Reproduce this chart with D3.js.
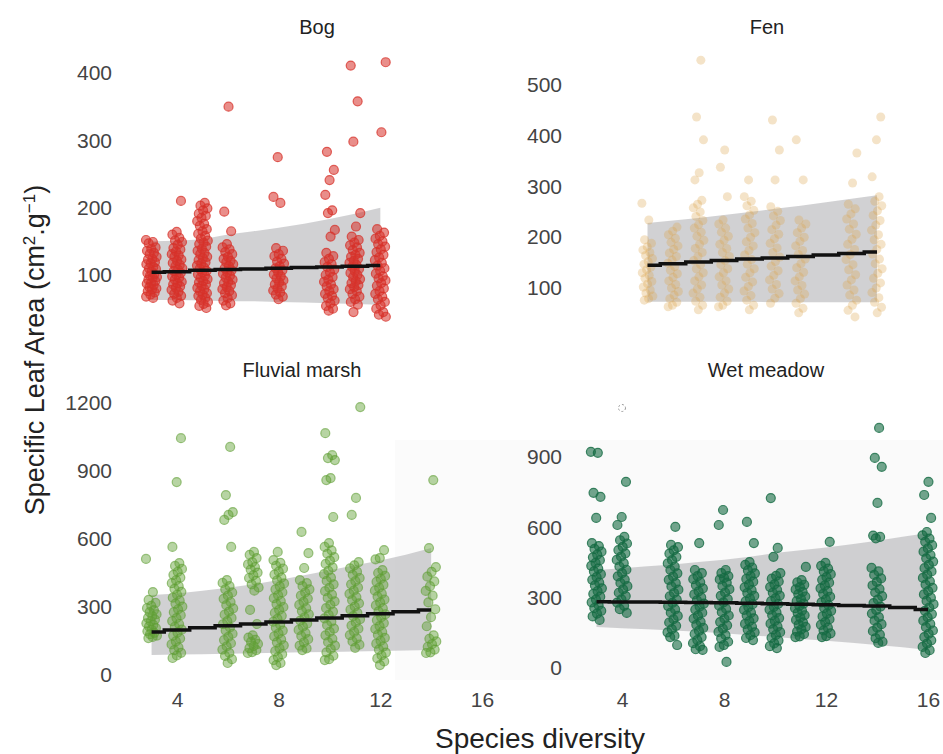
<!DOCTYPE html>
<html>
<head>
<meta charset="utf-8">
<script src="https://cdn.jsdelivr.net/npm/d3@7"></script>
<style>
  body { margin: 0; background: #fff; }
  text { font-family: "Liberation Sans", Arial, sans-serif; }
</style>
</head>
<body>
<script>
// SLA vs species diversity, one facet per habitat

const w = 943;
const h = 754;

const habitats = ["Bog", "Fen", "Fluvial marsh", "Wet meadow"];
const xTicks = [4, 8, 12, 16];
const bogTicks = [100, 200, 300, 400];
const fenTicks = [100, 200, 300, 400, 500];
const fluvialTicks = [0, 300, 600, 900, 1200];
const meadowTicks = [0, 300, 600, 900];

// ---- Bog
const bogX = [3, 4, 5, 6, 8, 10, 11, 12];
const bogSLA = [
  [152,149,147,141,139,136,133,131,127,124,123,119,117,116,112,110,109,105,103,101,99,97,96,93,91,88,87,85,82,80,79,76,74,71,68,66],
  [210,164,160,155,151,149,145,140,138,135,131,129,127,123,121,118,115,113,110,108,106,103,100,98,96,93,90,88,86,83,81,78,75,72,69,66,62,58],
  [207,203,199,196,191,188,185,180,176,173,168,165,161,158,154,151,148,146,142,139,136,133,131,127,125,122,119,117,114,111,109,106,104,101,99,96,94,91,89,86,84,81,79,76,73,71,69,66,63,60,57,54,51],
  [350,194,165,146,141,138,134,131,127,124,121,119,116,113,110,107,104,102,99,96,93,90,88,85,82,79,76,73,70,66,62,58,55],
  [275,216,207,140,136,131,128,124,120,117,113,110,107,104,101,98,95,92,89,86,83,80,77,74,71,68,64],
  [283,256,241,219,196,192,167,157,133,128,124,119,116,112,108,104,100,97,93,90,86,83,79,76,72,69,66,62,58,54,50,47],
  [411,358,298,192,172,157,152,148,144,141,137,133,130,127,124,121,118,115,112,109,106,103,100,97,94,91,88,85,82,79,76,72,68,64,60,56,45],
  [416,312,168,163,158,154,150,146,142,138,134,130,126,122,118,114,110,106,102,98,95,92,88,84,80,76,72,68,64,60,55,50,45,41,38]
];
const bogFitX = [3, 4, 5, 6, 7, 8, 9, 10, 11, 12];
const bogFit = [104, 105, 107, 108, 109, 110, 111, 112, 113, 114];
const bogUpper = [150, 151, 153, 160, 165, 170, 176, 183, 191, 200];
const bogLower = [63, 63, 62, 61, 61, 60, 59, 58, 57, 56];

// ---- Fen
const fenX = [5, 6, 7, 8, 9, 10, 11, 13, 14];
const fenSLA = [
  [267,234,195,188,181,175,170,164,158,152,147,141,136,130,125,119,113,108,102,96,90,84,79,76],
  [220,212,205,198,190,183,176,169,162,155,149,142,135,128,121,114,107,100,93,86,79,72,66,63],
  [549,437,392,327,313,273,265,258,250,241,233,225,218,210,202,194,186,178,170,162,154,146,138,130,122,114,106,98,90,82,74,66,57],
  [372,338,280,234,226,218,210,202,194,186,178,170,162,154,146,138,130,122,114,106,98,90,82,74,66,63],
  [313,280,271,262,253,244,236,227,218,209,200,191,183,174,165,156,147,138,130,121,112,103,94,85,76,66,57],
  [431,372,313,260,251,242,233,224,215,206,197,188,179,170,161,152,143,134,125,116,107,98,89,80,70],
  [392,313,234,226,218,209,200,192,183,174,166,157,148,140,131,122,114,105,96,88,79,70,60,51],
  [366,307,265,256,246,236,226,216,206,196,186,176,166,156,146,136,126,116,106,96,86,76,66,56,43],
  [437,392,319,280,271,262,252,243,233,224,214,205,195,186,176,167,157,148,138,129,119,110,100,91,81,72,62,51]
];
const fenFitX = [5, 6, 7, 8, 9, 10, 11, 12, 13, 14];
const fenFit = [145, 148, 151, 154, 157, 159, 162, 165, 168, 171];
const fenUpper = [228, 233, 238, 244, 250, 256, 262, 269, 276, 283];
const fenLower = [73, 73, 73, 73, 73, 72, 72, 72, 72, 72];

// ---- Fluvial marsh
const fluvialX = [3, 4, 6, 7, 8, 9, 10, 11, 12, 14];
const fluvialSLA = [
  [512,366,331,318,305,295,286,277,268,260,252,244,236,228,221,214,207,200,193,186,180,174,168,163],
  [1045,851,565,494,481,468,455,442,430,418,405,392,380,367,354,341,328,315,302,290,277,264,251,238,225,212,200,187,174,161,148,135,122,110,98,86,75],
  [1006,794,719,706,684,565,419,406,392,378,364,350,336,322,308,294,280,266,252,238,224,210,196,182,168,154,140,126,112,98,84,70,53],
  [543,530,516,498,488,476,465,452,440,428,415,400,386,372,287,225,175,165,155,146,137,128,119,110,101,97],
  [543,507,495,482,469,456,443,430,417,404,391,378,365,352,339,326,313,300,287,274,261,248,235,222,209,196,183,170,157,144,131,118,105,92,79,66,53,44],
  [631,538,472,419,405,392,378,364,350,337,323,309,295,282,268,254,240,227,213,199,185,172,158,144,130,117,110],
  [1067,970,957,948,869,860,697,582,565,550,535,520,505,490,475,460,445,430,415,400,385,370,355,340,325,310,295,280,265,250,235,220,205,190,175,160,145,130,115,100,85,70,66],
  [1182,781,706,498,484,470,456,442,428,414,400,386,372,358,344,330,316,302,288,274,260,246,232,218,204,190,176,162,148,134,120],
  [551,516,510,463,450,437,424,411,398,385,372,359,346,333,320,307,294,281,268,255,242,229,216,203,190,177,164,151,138,125,112,99,86,73,60,44],
  [860,560,476,455,434,413,392,371,350,320,290,255,215,175,160,148,136,124,112,100,97]
];
const fluvialFitX = [3, 4, 5, 6, 7, 8, 9, 10, 11, 12, 13, 14];
const fluvialFit = [190, 199, 208, 217, 225, 234, 243, 252, 261, 270, 279, 287];
const fluvialUpper = [353, 360, 372, 385, 400, 419, 440, 462, 484, 505, 530, 560];
const fluvialLower = [88, 90, 92, 94, 96, 98, 100, 102, 104, 106, 108, 110];

// ---- Wet meadow
const meadowX = [3, 4, 6, 7, 8, 9, 10, 11, 12, 14, 16];
const meadowSLA = [
  [922,918,747,730,640,533,520,508,496,484,472,460,448,436,424,412,400,388,376,364,352,340,328,316,304,292,280,268,256,244,232,220,205],
  [794,644,610,559,545,531,517,503,489,475,461,447,433,419,405,391,377,363,349,335,321,307,293,279,265,251,235],
  [602,525,516,502,488,474,460,446,432,418,404,390,376,362,348,334,320,306,292,278,264,250,236,222,208,194,180,166,152,138,132,98],
  [533,418,405,392,379,366,353,340,327,314,301,288,275,262,249,236,223,210,197,184,171,158,145,132,119,106,93,80,77],
  [674,610,418,405,392,384,378,364,350,336,322,308,294,280,266,252,238,224,210,196,182,168,154,140,126,112,98,90,26],
  [623,533,452,440,428,416,404,392,380,368,356,344,332,320,308,296,284,272,260,248,236,224,212,200,188,176,164,152,140,128,119],
  [725,512,474,405,393,381,369,357,345,333,321,309,297,285,273,261,249,237,225,213,201,189,177,165,153,141,129,117,105,93,85],
  [431,375,365,355,345,335,325,315,305,295,285,275,265,255,245,235,225,215,205,195,185,175,165,155,145,135,132],
  [538,448,436,424,412,400,388,376,364,352,340,328,316,304,292,280,268,256,244,232,220,208,196,184,172,160,148,136,132],
  [1024,896,858,704,565,559,553,427,412,397,382,367,352,337,322,307,292,277,262,247,232,217,202,187,172,157,142,127,112,107],
  [794,738,640,580,566,552,538,524,510,496,482,468,454,440,426,412,398,384,370,356,342,328,314,300,286,272,258,244,230,216,202,188,174,160,146,132,118,104,90,76,64]
];
const meadowFitX = [3, 4, 5, 6, 7, 8, 9, 10, 11, 12, 13, 14, 15, 16];
const meadowFit = [283, 282, 281, 280, 279, 278, 276, 274, 272, 270, 267, 264, 258, 250];
const meadowUpper = [418, 426, 434, 442, 452, 462, 475, 490, 502, 514, 528, 543, 560, 576];
const meadowLower = [175, 170, 165, 160, 155, 148, 140, 132, 124, 116, 108, 98, 88, 77];

const svg = d3.select("body").append("svg").attr("width", w).attr("height", h);

// faint panel backgrounds (scanned look)
svg.append("rect").attr("x", 500).attr("y", 440).attr("width", 443).attr("height", 240).attr("fill", "#fafafa");
svg.append("rect").attr("x", 395).attr("y", 440).attr("width", 105).attr("height", 240).attr("fill", "#fbfbfb");

const panels = [
  { name: habitats[0], xs: bogX, ys: bogSLA, fx: bogFitX, fit: bogFit, up: bogUpper, lo: bogLower,
    ticks: bogTicks, xr: [177, 482], yd: [100, 400], yr: [275, 73], axisX: 120, tx: 317, ty: 34,
    color: "#d7312a", fillOp: 0.55, strokeOp: 0.75, showX: false },
  { name: habitats[1], xs: fenX, ys: fenSLA, fx: fenFitX, fit: fenFit, up: fenUpper, lo: fenLower,
    ticks: fenTicks, xr: [622, 928], yd: [100, 500], yr: [288, 85], axisX: 570, tx: 767, ty: 34,
    color: "#dba14a", fillOp: 0.3, strokeOp: 0, showX: false },
  { name: habitats[2], xs: fluvialX, ys: fluvialSLA, fx: fluvialFitX, fit: fluvialFit, up: fluvialUpper, lo: fluvialLower,
    ticks: fluvialTicks, xr: [177, 482], yd: [0, 1200], yr: [675, 403], axisX: 120, tx: 302, ty: 377,
    color: "#5f9f34", fillOp: 0.45, strokeOp: 0.6, showX: true },
  { name: habitats[3], xs: meadowX, ys: meadowSLA, fx: meadowFitX, fit: meadowFit, up: meadowUpper, lo: meadowLower,
    ticks: meadowTicks, xr: [622, 928], yd: [0, 900], yr: [668, 457], axisX: 570, tx: 766, ty: 377,
    color: "#156b43", fillOp: 0.6, strokeOp: 0.8, showX: true }
];

panels.forEach(function (p) {
  const x = d3.scaleLinear().domain([4, 16]).range(p.xr);
  const y = d3.scaleLinear().domain(p.yd).range(p.yr);
  const g = svg.append("g");

  // prediction band
  const band = p.fx.map(function (d, i) { return { x: d, lo: p.lo[i], up: p.up[i], fit: p.fit[i] }; });
  g.append("path")
    .datum(band)
    .attr("d", d3.area()
      .x(function (d) { return x(d.x); })
      .y0(function (d) { return y(d.lo); })
      .y1(function (d) { return y(d.up); }))
    .attr("fill", "#b9b9bc")
    .attr("opacity", 0.65);

  // jittered points
  const pts = [];
  p.xs.forEach(function (xv, k) {
    p.ys[k].forEach(function (v, i) {
      const jit = (((i + k * 3) * 0.6180339887) % 1 - 0.5) * 0.44;
      pts.push({ x: xv + jit, y: v });
    });
  });
  g.selectAll("circle")
    .data(pts)
    .enter()
    .append("circle")
    .attr("cx", function (d) { return x(d.x); })
    .attr("cy", function (d) { return y(d.y); })
    .attr("r", 4.5)
    .attr("fill", p.color)
    .attr("fill-opacity", p.fillOp)
    .attr("stroke", p.color)
    .attr("stroke-opacity", p.strokeOp)
    .attr("stroke-width", 1.2);

  // fitted line
  g.append("path")
    .datum(band)
    .attr("d", d3.line()
      .curve(d3.curveStep)
      .x(function (d) { return x(d.x); })
      .y(function (d) { return y(d.fit); }))
    .attr("fill", "none")
    .attr("stroke", "#111")
    .attr("stroke-width", 3.5);

  // y axis
  const ya = svg.append("g")
    .attr("transform", "translate(" + p.axisX + ",0)")
    .call(d3.axisLeft(y).tickValues(p.ticks).tickFormat(d3.format("d")).tickSize(0).tickPadding(8));
  ya.select(".domain").remove();
  ya.selectAll("text")
    .style("font-size", "21px")
    .style("font-family", "'Liberation Sans', Arial, sans-serif")
    .attr("fill", "#444");

  // x axis
  if (p.showX) {
    const xa = svg.append("g")
      .attr("transform", "translate(0,692)")
      .call(d3.axisBottom(x).tickValues(xTicks).tickSize(0).tickPadding(0));
    xa.select(".domain").remove();
    xa.selectAll("text")
      .style("font-size", "21px")
      .style("font-family", "'Liberation Sans', Arial, sans-serif")
      .attr("fill", "#444");
  }

  svg.append("text")
    .attr("x", p.tx)
    .attr("y", p.ty)
    .attr("text-anchor", "middle")
    .style("font-size", "20px")
    .attr("fill", "#222")
    .text(p.name);
});

// small dashed mark seen in the scan
svg.append("circle").attr("cx", 622).attr("cy", 408).attr("r", 3.5)
  .attr("fill", "none").attr("stroke", "#999").attr("stroke-dasharray", "2,2");

// axis titles
svg.append("text")
  .attr("x", 540)
  .attr("y", 748)
  .attr("text-anchor", "middle")
  .style("font-size", "28px")
  .attr("fill", "#222")
  .text("Species diversity");

const yt = svg.append("text")
  .attr("transform", "translate(44,350) rotate(-90)")
  .attr("text-anchor", "middle")
  .style("font-size", "27px")
  .attr("fill", "#222");
yt.append("tspan").text("Specific Leaf Area (cm");
yt.append("tspan").attr("baseline-shift", "super").style("font-size", "17px").text("2");
yt.append("tspan").text(".g");
yt.append("tspan").attr("baseline-shift", "super").style("font-size", "17px").text("\u22121");
yt.append("tspan").text(")");
</script>
</body>
</html>
